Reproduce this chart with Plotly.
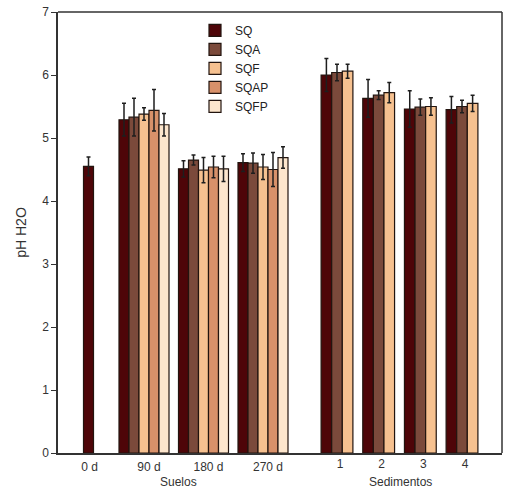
import plotly.graph_objects as go

# ---------------- data ----------------
suelos_cats = ["0 d", "90 d", "180 d", "270 d"]
sed_cats = ["1", "2", "3", "4"]
series_names = ["SQ", "SQA", "SQF", "SQAP", "SQFP"]

# Suelos (None = not measured)
sq_suelos = [4.55, 5.29, 4.51, 4.61]
sq_suelos_err = [0.15, 0.26, 0.13, 0.14]
sqa_suelos = [None, 5.33, 4.65, 4.60]
sqa_suelos_err = [None, 0.30, 0.08, 0.16]
sqf_suelos = [None, 5.38, 4.49, 4.54]
sqf_suelos_err = [None, 0.10, 0.20, 0.20]
sqap_suelos = [None, 5.44, 4.54, 4.50]
sqap_suelos_err = [None, 0.33, 0.17, 0.27]
sqfp_suelos = [None, 5.21, 4.51, 4.69]
sqfp_suelos_err = [None, 0.18, 0.20, 0.17]

# Sedimentos
sq_sed = [6.00, 5.63, 5.46, 5.45]
sq_sed_err = [0.26, 0.30, 0.29, 0.21]
sqa_sed = [6.04, 5.68, 5.49, 5.50]
sqa_sed_err = [0.13, 0.07, 0.13, 0.10]
sqf_sed = [6.06, 5.72, 5.50, 5.55]
sqf_sed_err = [0.11, 0.16, 0.14, 0.13]

y_ticks = [0, 1, 2, 3, 4, 5, 6, 7]

# ---------------- styles ----------------
colors = {"SQ": "#4e0508", "SQA": "#7b4a3b", "SQF": "#f6c190",
          "SQAP": "#d8916a", "SQFP": "#fde6cd"}
FONT = "Liberation Sans, Arial, sans-serif"
W, H = 507, 494
ML, MR, MT, MB = 58, 5, 8, 41
plot_w = W - ML - MR
plot_h = H - MT - MB

# x-axis geometry (pixels per category)
step1 = 59.5   # Suelos category spacing
step2 = 41.67  # Sedimentos category spacing
c1_px = 84.5   # pixel centre of first Suelos category
c2_px = 337.0  # pixel centre of first Sedimentos category
r1_0 = -(c1_px - ML) / step1
r2_0 = -(c2_px - ML) / step2
w1 = 10.0 / step1
w2 = 10.6 / step2

fig = go.Figure()

suelos = [(sq_suelos, sq_suelos_err), (sqa_suelos, sqa_suelos_err),
          (sqf_suelos, sqf_suelos_err), (sqap_suelos, sqap_suelos_err),
          (sqfp_suelos, sqfp_suelos_err)]
sed = [(sq_sed, sq_sed_err), (sqa_sed, sqa_sed_err), (sqf_sed, sqf_sed_err)]

for i, (name, (vals, errs)) in enumerate(zip(series_names, suelos)):
    offs = []
    for j, v in enumerate(vals):
        if j == 0:
            offs.append(-w1 / 2 + 4.0 / step1)  # single bar at 0 d
        else:
            offs.append(-2.5 * w1 + i * w1)
    fig.add_trace(go.Bar(
        x=suelos_cats, y=vals, name=name, legendgroup=name,
        width=w1, offset=offs,
        marker=dict(color=colors[name], line=dict(color="#22140f", width=1.2)),
        error_y=dict(type="data", array=errs, visible=True,
                     color="#1e1e1e", thickness=1.5, width=2),
        xaxis="x", yaxis="y", showlegend=True,
    ))

for i, (name, (vals, errs)) in enumerate(zip(series_names[:3], sed)):
    fig.add_trace(go.Bar(
        x=sed_cats, y=vals, name=name, legendgroup=name,
        width=w2, offset=-1.5 * w2 + i * w2,
        marker=dict(color=colors[name], line=dict(color="#22140f", width=1.2)),
        error_y=dict(type="data", array=errs, visible=True,
                     color="#1e1e1e", thickness=1.5, width=2),
        xaxis="x2", yaxis="y", showlegend=False,
    ))

fig.update_layout(
    width=W, height=H,
    margin=dict(l=ML, r=MR, t=MT, b=MB),
    paper_bgcolor="white", plot_bgcolor="white",
    barmode="overlay",
    font=dict(family=FONT, size=12, color="#333333"),
    showlegend=True,
    legend=dict(x=(195 - ML) / plot_w, y=1 - (12 - MT) / plot_h,
                xanchor="left", yanchor="top",
                font=dict(size=12, color="#222222"),
                bgcolor="rgba(255,255,255,0)", tracegroupgap=0,
                itemwidth=30),
    xaxis=dict(type="category", categoryorder="array",
               categoryarray=suelos_cats,
               range=[r1_0, r1_0 + plot_w / step1],
               domain=[0, 1], showline=True, linecolor="#333333",
               linewidth=1.5, ticks="", showgrid=False, zeroline=False,
               tickfont=dict(size=12, color="#333333"),
               ticklabelshift=5, ticklabelstandoff=2, fixedrange=True),
    xaxis2=dict(type="category", categoryorder="array",
                categoryarray=sed_cats,
                range=[r2_0, r2_0 + plot_w / step2],
                overlaying="x", side="bottom", showline=False,
                ticks="", showgrid=False, zeroline=False,
                tickfont=dict(size=12, color="#333333"),
                ticklabelshift=3, ticklabelstandoff=2, fixedrange=True),
    yaxis=dict(range=[0, 7], tickvals=y_ticks, ticks="outside", ticklen=5,
               tickcolor="#333333", showline=True, linecolor="#333333",
               linewidth=1.5, showgrid=False, zeroline=False,
               tickfont=dict(size=12, color="#333333"),
               title=dict(text="pH H2O", font=dict(size=14, color="#333333"),
                          standoff=12)),
    shapes=[
        dict(type="line", xref="paper", yref="paper", x0=0, x1=1, y0=1, y1=1,
             line=dict(color="#333333", width=1.5)),
        dict(type="line", xref="paper", yref="paper", x0=1, x1=1, y0=0, y1=1,
             line=dict(color="#333333", width=1.5)),
    ],
    annotations=[
        dict(text="Suelos", xref="paper", yref="paper",
             x=(178 - ML) / plot_w, y=-(482 - (H - MB)) / plot_h,
             showarrow=False, font=dict(size=12, color="#333333"),
             xanchor="center", yanchor="middle"),
        dict(text="Sedimentos", xref="paper", yref="paper",
             x=(400 - ML) / plot_w, y=-(482 - (H - MB)) / plot_h,
             showarrow=False, font=dict(size=12, color="#333333"),
             xanchor="center", yanchor="middle"),
    ],
)

fig.write_html("out.html")
